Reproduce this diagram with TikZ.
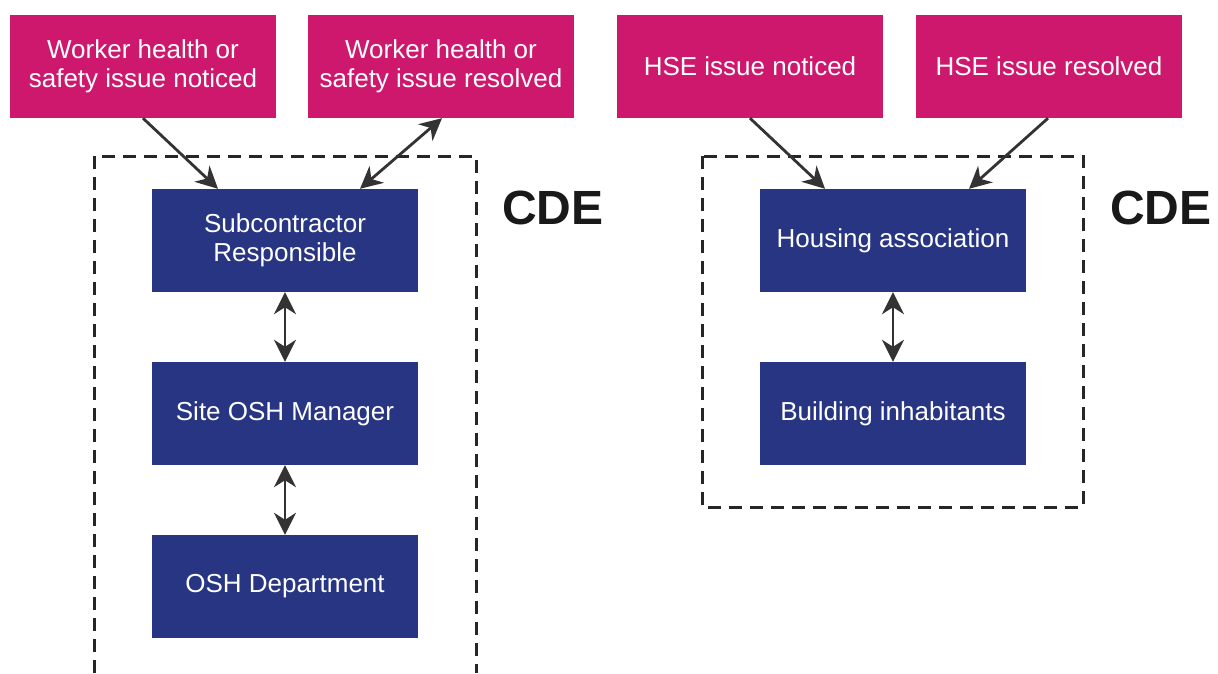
\documentclass[tikz,border=0pt]{standalone}
\usepackage{fontspec}
\setmainfont{Liberation Sans}
\usetikzlibrary{arrows.meta}
\definecolor{pinkc}{RGB}{206,24,110}
\definecolor{bluec}{RGB}{40,53,131}
\definecolor{arrc}{RGB}{51,51,51}
\begin{document}
\begin{tikzpicture}[x=1pt,y=-1pt,
  pinkbox/.style={fill=pinkc, text=white, minimum width=266pt, minimum height=103pt, inner sep=0pt, align=center, font=\fontsize{26}{29.5}\selectfont},
  bluebox/.style={fill=bluec, text=white, minimum width=266pt, minimum height=103pt, inner sep=0pt, align=center, font=\fontsize{26}{29.5}\selectfont},
  tip/.tip={Stealth[length=22pt,width=22pt,inset=7pt]},
  conn/.style={draw=arrc, line width=2.8pt, -tip},
  dconn/.style={draw=arrc, line width=2.8pt, tip-tip},
  frame/.style={draw=black!85, line width=3pt, dash pattern=on 13pt off 8pt},
  cde/.style={font=\fontsize{48}{52}\selectfont\bfseries, text=black!90, inner sep=0pt}]
\useasboundingbox (0,0) rectangle (1218,673);
% frames
\draw[frame] (94,673) -- (94,156) -- (476,156) -- (476,673);
\draw[frame] (702,156) rectangle (1083,507);
% pink boxes
\node[pinkbox] (p1) at (143,66.5) {Worker health or\\safety issue noticed};
\node[pinkbox] (p2) at (441,66.5) {Worker health or\\safety issue resolved};
\node[pinkbox] (p3) at (750,66.5) {HSE issue noticed};
\node[pinkbox] (p4) at (1049,66.5) {HSE issue resolved};
% blue boxes
\node[bluebox] (sub) at (285,240.5) {Subcontractor\\Responsible};
\node[bluebox] (site) at (285,413.5) {Site OSH Manager};
\node[bluebox] (osh) at (285,586.5) {OSH Department};
\node[bluebox] (house) at (893,240.5) {Housing association};
\node[bluebox] (build) at (893,413.5) {Building inhabitants};
% CDE labels
\node[cde] (cde1) at (553,208) {CDE};
\node[cde] (cde2) at (1161,208) {CDE};
% connectors
\draw[conn] (p1.south) -- ([xshift=-67pt]sub.north);
\draw[dconn] ([xshift=75pt]sub.north) -- ([xshift=1pt]p2.south);
\draw[dconn] (sub.south) -- (site.north);
\draw[dconn] (site.south) -- (osh.north);
\draw[conn] (p3.south) -- ([xshift=-68pt]house.north);
\draw[conn] ([xshift=-1pt]p4.south) -- ([xshift=76pt]house.north);
\draw[dconn] (house.south) -- (build.north);
\end{tikzpicture}
\end{document}
